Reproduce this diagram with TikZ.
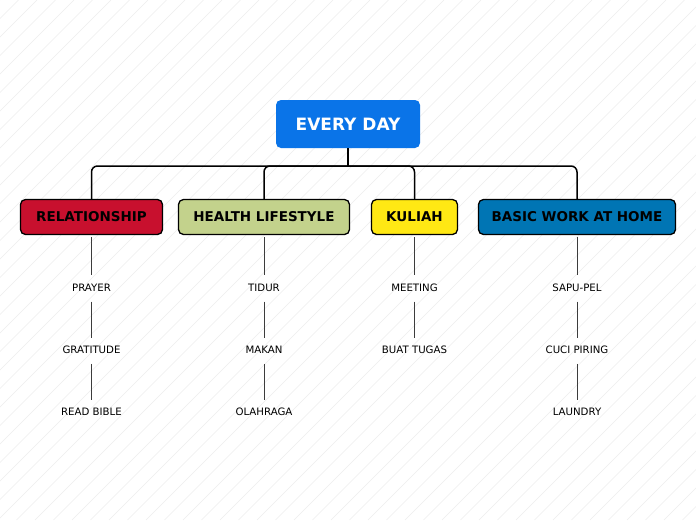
\documentclass[tikz,border=0pt]{standalone}
\usepackage{fontspec}
\setmainfont{DejaVu Sans}
\usetikzlibrary{positioning}
\definecolor{RootBlue}{RGB}{10,116,232}
\definecolor{Crimson}{RGB}{200,16,46}
\definecolor{Sage}{RGB}{195,210,140}
\definecolor{Lemon}{RGB}{255,232,20}
\definecolor{Ocean}{RGB}{0,117,180}
\definecolor{StripeGray}{RGB}{237,237,237}
\definecolor{LeafLine}{RGB}{60,60,60}
\tikzset{
  rootbox/.style={rounded corners=5pt,fill=RootBlue,text=white,minimum width=144pt,minimum height=48pt,font=\fontsize{17}{20}\selectfont\bfseries},
  branchbox/.style={draw=black,line width=1.3pt,rounded corners=5pt,minimum height=35pt,font=\fontsize{13.5}{16}\selectfont\bfseries},
  leaf/.style={inner sep=0pt,minimum height=24pt,font=\fontsize{10.2}{12}\selectfont},
  branchline/.style={draw=black,line width=1.5pt,rounded corners=6pt},
  trunkline/.style={draw=black,line width=2.2pt},
  leafline/.style={draw=LeafLine,line width=0.8pt,shorten <=2pt},
  stripeline/.style={draw=StripeGray,line width=0.6pt}
}
\begin{document}
\begin{tikzpicture}[x=1pt,y=-1pt,node distance=38pt]
\useasboundingbox (0,0) rectangle (696,520);
\fill[white] (0,0) rectangle (696,520);
\begin{scope}
\clip (0,0) rectangle (696,520);
\foreach \i in {0,1,...,66} \draw[stripeline] ({\i*18.5-520},520) -- ++(520,-520);
\end{scope}
\node[rootbox] (root) at (348,124) {EVERY DAY};
\node[branchbox,fill=Crimson,minimum width=142pt] (rel) at (91.5,217) {RELATIONSHIP};
\node[branchbox,fill=Sage,minimum width=171pt] (health) at (264,217) {HEALTH LIFESTYLE};
\node[branchbox,fill=Lemon,minimum width=86pt] (kuliah) at (414.5,217) {KULIAH};
\node[branchbox,fill=Ocean,minimum width=197pt] (home) at (577,217) {BASIC WORK AT HOME};
\coordinate (hub) at (348,166);
\draw[trunkline] (root.south) -- (hub);
\draw[branchline] (rel.north) |- (hub) -| (home.north);
\draw[branchline] (health.north) |- (hub);
\draw[branchline] (kuliah.north) |- (hub);
\node[leaf,below=40pt of rel] (prayer) {PRAYER};
\node[leaf,below=of prayer] (gratitude) {GRATITUDE};
\node[leaf,below=of gratitude] (bible) {READ BIBLE};
\node[leaf,below=40pt of health] (tidur) {TIDUR};
\node[leaf,below=of tidur] (makan) {MAKAN};
\node[leaf,below=of makan] (olahraga) {OLAHRAGA};
\node[leaf,below=40pt of kuliah] (meeting) {MEETING};
\node[leaf,below=of meeting] (tugas) {BUAT TUGAS};
\node[leaf,below=40pt of home] (sapu) {SAPU-PEL};
\node[leaf,below=of sapu] (piring) {CUCI PIRING};
\node[leaf,below=of piring] (laundry) {LAUNDRY};
\foreach \u/\v in {rel/prayer,prayer/gratitude,gratitude/bible,health/tidur,tidur/makan,makan/olahraga,kuliah/meeting,meeting/tugas,home/sapu,sapu/piring,piring/laundry}
  \draw[leafline] (\u) -- (\v);
\end{tikzpicture}
\end{document}
